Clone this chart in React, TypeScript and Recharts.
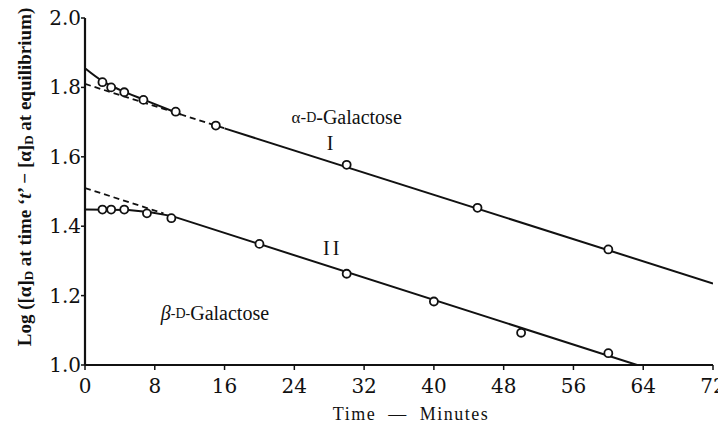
import React from 'react';
import { ComposedChart, Line, Scatter, XAxis, YAxis, ReferenceDot } from 'recharts';

// observed points, curve I (alpha) and curve II (beta)
const alphaTimes = [2, 3, 4.5, 6.7, 10.4, 15, 30, 45, 60];
const alphaValues = [1.815, 1.8, 1.786, 1.764, 1.73, 1.69, 1.577, 1.453, 1.333];
const betaTimes = [2, 3, 4.5, 7.1, 9.9, 20, 30, 40, 50, 60];
const betaValues = [1.448, 1.448, 1.448, 1.437, 1.423, 1.349, 1.263, 1.183, 1.093, 1.034];

// drawn lines
const alphaCurveT = [0, 2, 4, 7, 11];
const alphaCurveV = [1.855, 1.818, 1.793, 1.762, 1.722];
const alphaFitT = [16, 72];
const alphaFitV = [1.682, 1.235];
const alphaDashT = [0, 16];
const alphaDashV = [1.81, 1.682];
const betaLineT = [0, 5, 7.5, 10, 63.3];
const betaLineV = [1.448, 1.447, 1.44, 1.429, 1.0];
const betaDashT = [0, 9];
const betaDashV = [1.51, 1.437];

const xTicks = [0, 8, 16, 24, 32, 40, 48, 56, 64, 72];
const yTicks = [1.0, 1.2, 1.4, 1.6, 1.8, 2.0];

const notes = [
  { t: 30, v: 1.715, key: 'alpha' },
  { t: 28.1, v: 1.64, key: 'I' },
  { t: 28.4, v: 1.337, key: 'II' },
  { t: 14.9, v: 1.149, key: 'beta' },
];

const zip = (ts: number[], vs: number[]) => ts.map((t, i) => ({ t, v: vs[i] }));

const SERIF = "'Liberation Serif', 'Times New Roman', Times, 'DejaVu Serif', serif";
const WIDE_SERIF = "'DejaVu Serif', serif";
const INK = '#111';

function OpenDot(props: any) {
  const { cx, cy } = props;
  if (cx == null || cy == null) return null;
  return <circle cx={cx} cy={cy} r={4} fill="#fff" stroke={INK} strokeWidth={1.8} />;
}

function Note(props: any, key: string) {
  const { cx, cy } = props;
  const common = {
    x: cx,
    y: cy,
    fill: INK,
    fontFamily: SERIF,
    textAnchor: 'middle' as const,
    dominantBaseline: 'central' as const,
  };
  if (key === 'alpha') {
    return (
      <text {...common} fontSize={20}>
        <tspan fontSize={17}>α-</tspan>
        <tspan fontSize={14}>D</tspan>
        <tspan>-Galactose</tspan>
      </text>
    );
  }
  if (key === 'beta') {
    return (
      <text {...common} fontSize={20}>
        <tspan fontStyle="italic">β</tspan>
        <tspan fontSize={14}>-D-</tspan>
        <tspan>Galactose</tspan>
      </text>
    );
  }
  return (
    <text {...common} fontSize={20} letterSpacing={key === 'II' ? 3 : 0}>
      {key}
    </text>
  );
}

function YTitle() {
  return (
    <text
      x={24}
      y={177}
      transform="rotate(-90 24 177)"
      textAnchor="middle"
      dominantBaseline="central"
      fontFamily={SERIF}
      fontWeight="bold"
      fontSize={19}
      fill={INK}
    >
      Log ([α]<tspan fontSize={13} dy={4}>D</tspan>
      <tspan dy={-4}> at time ‘</tspan>
      <tspan fontStyle="italic">t</tspan>
      <tspan>’ − [α]</tspan>
      <tspan fontSize={13} dy={4}>D</tspan>
      <tspan dy={-4}> at equilibrium)</tspan>
    </text>
  );
}

function XTitle() {
  return (
    <text x={411} y={420} textAnchor="middle" fontFamily={SERIF} fontSize={18} letterSpacing={1.5} fill={INK}>
      Time {'\u00a0'}—{'\u00a0'} Minutes
    </text>
  );
}

function TickText(props: any) {
  const { x, y, payload, textAnchor, axis } = props;
  const label = axis === 'y' ? Number(payload.value).toFixed(1) : String(payload.value);
  return (
    <text
      x={x}
      y={y}
      textAnchor={textAnchor}
      dominantBaseline="central"
      fontFamily={WIDE_SERIF}
      fontSize={20}
      fill={INK}
    >
      {label}
    </text>
  );
}

export default function App() {
  return (
    <div style={{ width: 726, height: 425, margin: '-8px 0 0 -8px', background: '#fff' }}>
      <ComposedChart width={726} height={425} margin={{ top: 18, right: 13, bottom: 0, left: 0 }}>
        <XAxis
          type="number"
          dataKey="t"
          domain={[0, 72]}
          ticks={xTicks}
          interval={0}
          height={60}
          tick={(p: any) => <TickText {...p} axis="x" y={p.y + 14} />}
          tickSize={5}
          tickMargin={2}
          axisLine={{ stroke: INK, strokeWidth: 2.2 }}
          tickLine={{ stroke: INK, strokeWidth: 1.5 }}
          allowDataOverflow
          label={{ content: () => <XTitle /> }}
        />
        <YAxis
          type="number"
          domain={[1, 2]}
          ticks={yTicks}
          interval={0}
          width={85}
          tick={(p: any) => <TickText {...p} axis="y" />}
          tickSize={4}
          tickMargin={0}
          axisLine={{ stroke: INK, strokeWidth: 2.2 }}
          tickLine={{ stroke: INK, strokeWidth: 1.5 }}
          allowDataOverflow
          label={{ content: () => <YTitle /> }}
        />
        <Line data={zip(alphaDashT, alphaDashV)} dataKey="v" stroke={INK} strokeWidth={1.8} strokeDasharray="6 4" dot={false} isAnimationActive={false} />
        <Line data={zip(alphaCurveT, alphaCurveV)} dataKey="v" type="monotone" stroke={INK} strokeWidth={2} dot={false} isAnimationActive={false} />
        <Line data={zip(alphaFitT, alphaFitV)} dataKey="v" stroke={INK} strokeWidth={2} dot={false} isAnimationActive={false} />
        <Line data={zip(betaDashT, betaDashV)} dataKey="v" stroke={INK} strokeWidth={1.8} strokeDasharray="6 4" dot={false} isAnimationActive={false} />
        <Line data={zip(betaLineT, betaLineV)} dataKey="v" stroke={INK} strokeWidth={2} dot={false} isAnimationActive={false} />
        <Scatter data={zip(alphaTimes, alphaValues)} dataKey="v" shape={OpenDot} isAnimationActive={false} />
        <Scatter data={zip(betaTimes, betaValues)} dataKey="v" shape={OpenDot} isAnimationActive={false} />
        {notes.map((n) => (
          <ReferenceDot key={n.key} x={n.t} y={n.v} r={0} shape={(p: any) => Note(p, n.key)} />
        ))}
      </ComposedChart>
    </div>
  );
}
